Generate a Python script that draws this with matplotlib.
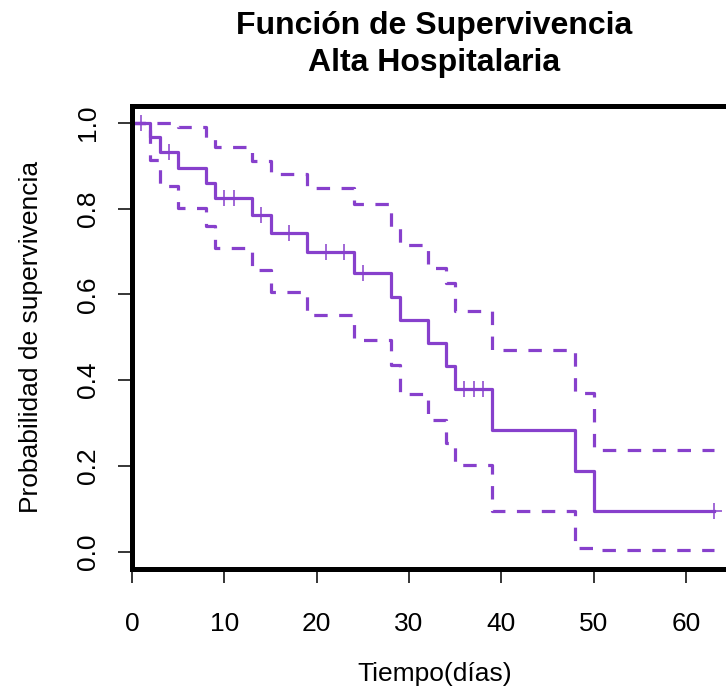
import numpy as np
import matplotlib
matplotlib.use("Agg")
from matplotlib import pyplot as plt

# Kaplan-Meier estimate, alta hospitalaria
event_times = [2, 3, 5, 8, 9, 13, 15, 19, 24, 28, 29, 32, 34, 35, 39, 48, 50]
surv = [0.966, 0.931, 0.895, 0.859, 0.824, 0.784, 0.743, 0.699, 0.649,
        0.595, 0.541, 0.487, 0.433, 0.379, 0.284, 0.189, 0.095]
upper = [1.0, 1.0, 0.989, 0.963, 0.943, 0.911, 0.881, 0.849, 0.810,
         0.755, 0.715, 0.661, 0.626, 0.561, 0.471, 0.370, 0.238]
lower = [0.913, 0.853, 0.802, 0.759, 0.707, 0.657, 0.606, 0.551, 0.493,
         0.435, 0.368, 0.308, 0.253, 0.203, 0.095, 0.010, 0.004]
censor_times = [1, 4, 10, 11, 14, 17, 21, 23, 25, 36, 37, 38, 63]
last_time = 63

x_ticks = [0, 10, 20, 30, 40, 50, 60]
y_ticks = [0.0, 0.2, 0.4, 0.6, 0.8, 1.0]

col = "#8740cc"

plt.rcParams['font.family'] = ['Liberation Sans', 'DejaVu Sans']

fig = plt.figure(figsize=(7.26, 7.0), dpi=100)
ax = fig.add_axes([0.1818, 0.1871, 0.8333, 0.6621])

xs = [0] + event_times + [last_time]
ax.step(xs, [1.0] + surv + [surv[-1]], where='post', color=col, lw=2.3)
ax.step(xs, [1.0] + upper + [upper[-1]], where='post', color=col, lw=2.3,
        dashes=(4.2, 3.6))
ax.step(xs, [1.0] + lower + [lower[-1]], where='post', color=col, lw=2.3,
        dashes=(4.2, 3.6))

# censoring marks sit on the curve
idx = np.searchsorted(event_times, censor_times, side='right')
cens_y = np.array([1.0] + surv)[idx]
ax.plot(censor_times, cens_y, ls='none', marker='+', ms=12, mew=1.1, color=col)

ax.set_xlim(0, 65.5)
ax.set_ylim(-0.04, 1.04)
ax.set_xticks(x_ticks)
ax.set_yticks(y_ticks)
ax.set_yticklabels([f"{v:.1f}" for v in y_ticks])

for s in ax.spines.values():
    s.set_linewidth(3.6)
ax.tick_params(direction='out', length=10, width=1.1, labelsize=19)
ax.tick_params(axis='x', pad=21)
ax.tick_params(axis='y', pad=13)
plt.setp(ax.get_yticklabels(), rotation=90, va='center')

ax.set_xlabel("Tiempo(días)", fontsize=19, labelpad=19)
ax.set_ylabel("Probabilidad de supervivencia", fontsize=19, labelpad=24)
ax.set_title("Función de Supervivencia\nAlta Hospitalaria", fontsize=23,
             fontweight='bold', pad=25, linespacing=1.28)

fig.savefig("out.png", dpi=100)
